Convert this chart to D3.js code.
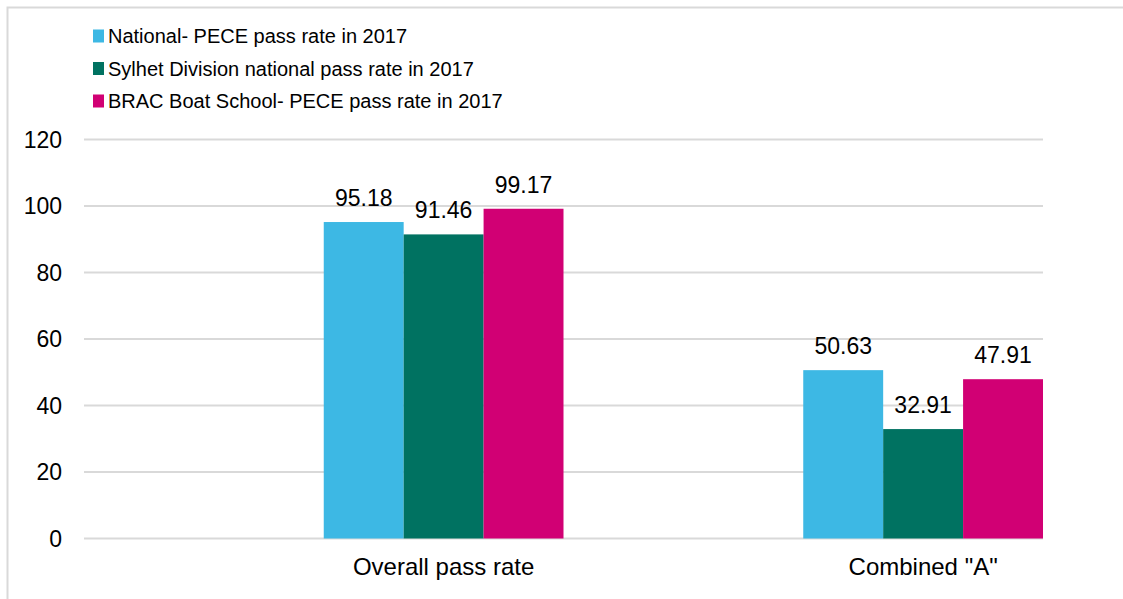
<!DOCTYPE html>
<html>
<head>
<meta charset="utf-8">
<title>PECE pass rate 2017</title>
<script src="https://d3js.org/d3.v7.min.js"></script>
<style>
body { margin:0; background:#fff; }
svg text { font-family: "Liberation Sans", Arial, sans-serif; fill:#000; }
.grid line { stroke:#d9d9d9; stroke-width:2px; }
</style>
</head>
<body>
<script>
var categories = ["Overall pass rate", "Combined \"A\""];
var series = ["National- PECE pass rate in 2017",
              "Sylhet Division national pass rate in 2017",
              "BRAC Boat School- PECE pass rate in 2017"];
var colors = ["#3db8e4", "#007261", "#d10074"];
var national = [95.18, 50.63];
var sylhet = [91.46, 32.91];
var brac = [99.17, 47.91];
var yTicks = [0, 20, 40, 60, 80, 100, 120];

var values = [national, sylhet, brac];

var width = 1123, height = 599;
var svg = d3.select("body").append("svg")
    .attr("width", width)
    .attr("height", height);

// outer frame (cut off on right and bottom)
svg.append("rect")
    .attr("x", 7.5).attr("y", 7.5)
    .attr("width", 1140).attr("height", 620)
    .attr("fill", "none")
    .attr("stroke", "#d9d9d9")
    .attr("stroke-width", 2);

var plotLeft = 84, plotRight = 1043, plotTop = 139.5, plotBottom = 538.5;

var y = d3.scaleLinear().domain([0, 120]).range([plotBottom, plotTop]);
var x0 = d3.scaleBand().domain(categories).range([plotLeft, plotRight]);
// bars sit in the right half of each category band
var x1 = d3.scaleBand().domain(series)
    .range([x0.bandwidth() / 2, x0.bandwidth()]);

// gridlines
svg.append("g").attr("class", "grid")
  .selectAll("line")
  .data(yTicks)
  .enter().append("line")
    .attr("x1", plotLeft).attr("x2", plotRight)
    .attr("y1", function(d) { return y(d); })
    .attr("y2", function(d) { return y(d); });

// y tick labels
svg.append("g")
  .selectAll("text")
  .data(yTicks)
  .enter().append("text")
    .attr("x", 62)
    .attr("y", function(d) { return y(d); })
    .attr("dy", "0.35em")
    .attr("text-anchor", "end")
    .style("font-size", "23px")
    .text(function(d) { return d; });

// bars
var groups = svg.append("g")
  .selectAll("g")
  .data(categories)
  .enter().append("g")
    .attr("transform", function(d) { return "translate(" + x0(d) + ",0)"; });

groups.each(function(c, ci) {
  var g = d3.select(this);
  series.forEach(function(s, si) {
    var v = values[si][ci];
    g.append("rect")
      .attr("x", x1(s))
      .attr("y", y(v))
      .attr("width", x1.bandwidth())
      .attr("height", y(0) - y(v))
      .attr("fill", colors[si]);
    g.append("text")
      .attr("x", x1(s) + x1.bandwidth() / 2)
      .attr("y", y(v) - 16)
      .attr("text-anchor", "middle")
      .style("font-size", "23px")
      .text(v.toFixed(2));
  });
});

// category labels
svg.append("g")
  .selectAll("text")
  .data(categories)
  .enter().append("text")
    .attr("x", function(d) { return x0(d) + x0.bandwidth() * 0.75; })
    .attr("y", 575)
    .attr("text-anchor", "middle")
    .style("font-size", "24px")
    .text(function(d) { return d; });

// legend
var legend = svg.append("g")
  .selectAll("g")
  .data(series)
  .enter().append("g")
    .attr("transform", function(d, i) { return "translate(93," + (36 + i * 32.5) + ")"; });

legend.append("rect")
    .attr("x", 0).attr("y", -6.5)
    .attr("width", 11).attr("height", 13)
    .attr("fill", function(d, i) { return colors[i]; });

legend.append("text")
    .attr("x", 15)
    .attr("dy", "0.36em")
    .style("font-size", "20px")
    .text(function(d) { return d; });
</script>
</body>
</html>
